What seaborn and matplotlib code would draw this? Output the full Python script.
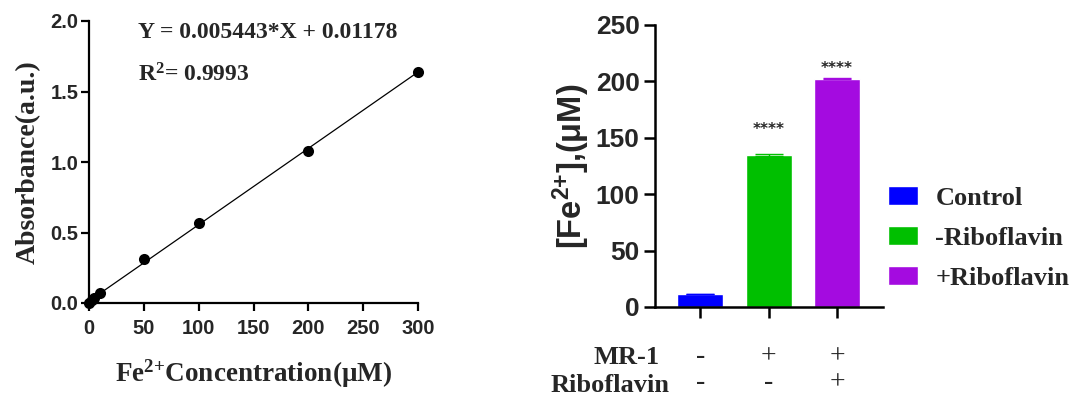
import numpy as np
import pandas as pd
import matplotlib
matplotlib.use("Agg")
import matplotlib.pyplot as plt
import seaborn as sns

# ---- data ----
conc = [0, 2.5, 5, 10, 50, 100, 200, 300]
absorb = [0.0, 0.02, 0.035, 0.07, 0.31, 0.57, 1.08, 1.64]
eq_text = "Y = 0.005443*X + 0.01178"
r2_text = "0.9993"

groups = ["Control", "-Riboflavin", "+Riboflavin"]
fe_vals = [11.5, 134.8, 202.3]
fe_err = [0.3, 0.5, 0.4]
colors = ["#0000FF", "#00BF00", "#A40BE0"]
sig = ["", "****", "****"]
sig_offset = [0, 22, 9]
mr1_row = ["-", "+", "+"]
ribo_row = ["-", "-", "+"]

sns.set_theme(style="ticks")
plt.rcParams["font.family"] = ["Liberation Serif", "DejaVu Sans"]
plt.rcParams["mathtext.fontset"] = "custom"
plt.rcParams["mathtext.bf"] = "Liberation Serif:bold"
plt.rcParams["mathtext.sf"] = "Liberation Sans:bold"
plt.rcParams["mathtext.rm"] = "Liberation Serif:bold"

W, H = 1077, 399
fig = plt.figure(figsize=(W / 100, H / 100), dpi=100)

def px_axes(l, t, r, b):
    return fig.add_axes([l / W, 1 - b / H, (r - l) / W, (b - t) / H])

# ---- left panel ----
ax1 = px_axes(89, 21, 418, 303)
df1 = pd.DataFrame({"conc": conc, "abs": absorb})
sns.regplot(data=df1, x="conc", y="abs", ax=ax1, ci=None, truncate=True,
            scatter_kws=dict(s=64, color="black", alpha=1, clip_on=False, zorder=3, linewidths=0),
            line_kws=dict(color="black", lw=0.9))
ax1.set_xlim(0, 300)
ax1.set_ylim(0, 2.0)
ax1.set_xticks(np.arange(0, 301, 50))
ax1.set_yticks(np.arange(0, 2.01, 0.5))
ax1.set_yticklabels([f"{v:.1f}" for v in np.arange(0, 2.01, 0.5)])
for s in ["top", "right"]:
    ax1.spines[s].set_visible(False)
for s in ["left", "bottom"]:
    ax1.spines[s].set_linewidth(1.6)
    ax1.spines[s].set_color("black")
ax1.tick_params(axis="both", width=1.6, length=5.5, color="black", labelsize=14.5)
ax1.tick_params(axis="x", pad=6)
ax1.tick_params(axis="y", pad=2)
for lab in ax1.get_xticklabels() + ax1.get_yticklabels():
    lab.set_family("Liberation Sans")
    lab.set_fontweight("bold")
ax1.set_xlabel(r"Fe$\mathbf{^{2{+}}}$Concentration(μM)", fontsize=19.5, fontweight="bold", labelpad=14)
ax1.set_ylabel("Absorbance(a.u.)", fontsize=20, fontweight="bold", labelpad=7)
ax1.text(138 / W, 1 - 32 / H, eq_text, transform=fig.transFigure, fontsize=17,
         fontweight="bold", va="center", ha="left")
ax1.text(138 / W, 1 - 75 / H, r"R$\mathbf{^2}$= " + r2_text, transform=fig.transFigure,
         fontsize=17, fontweight="bold", va="center", ha="left")

# ---- right panel ----
ax2 = px_axes(655, 25, 883, 307)
df2 = pd.DataFrame({"group": groups, "val": fe_vals})
sns.barplot(data=df2, x="group", y="val", hue="group", palette=colors, ax=ax2,
            width=0.67, dodge=False, legend=True, errorbar=None, saturation=1)
for i, (v, e, c) in enumerate(zip(fe_vals, fe_err, colors)):
    ax2.errorbar([i], [v], yerr=[e], fmt="none", ecolor=c, elinewidth=1,
                 capsize=10, capthick=1)
ax2.set_xlim(-0.66, 2.67)
ax2.set_ylim(0, 250)
ax2.set_yticks([0, 50, 100, 150, 200, 250])
for s in ["top", "right"]:
    ax2.spines[s].set_visible(False)
for s in ["left", "bottom"]:
    ax2.spines[s].set_linewidth(1.8)
    ax2.spines[s].set_color("black")
ax2.tick_params(axis="y", width=1.8, length=8, color="black", labelsize=19, pad=3)
ax2.tick_params(axis="x", width=1.8, length=8, color="black", labelbottom=False)
for lab in ax2.get_yticklabels():
    lab.set_family("Liberation Sans")
    lab.set_fontweight("bold")
ax2.set_xlabel("")
ax2.set_ylabel(r"[Fe$\mathsf{^{2{+}}}$],(μM)", fontsize=23.5, fontweight="bold",
               family="Liberation Sans", labelpad=3)

for i, (v, e, s, o) in enumerate(zip(fe_vals, fe_err, sig, sig_offset)):
    if s:
        ax2.text(i, v + e + o, s, ha="center", va="center", fontsize=11,
                 fontweight="bold", family="DejaVu Sans")

leg = ax2.legend(loc="center left", bbox_to_anchor=(888 / W, 1 - 238 / H),
                 bbox_transform=fig.transFigure, frameon=False,
                 prop=dict(family="Liberation Serif", weight="bold", size=19),
                 handlelength=1.15, handleheight=0.7, handletextpad=0.65,
                 labelspacing=0.62, borderpad=0, borderaxespad=0)

# condition rows below the bars
row_y = [357, 386]
for j, lab in enumerate(["MR-1", "Riboflavin"]):
    xr = [660, 670][j]
    fig.text(xr / W, 1 - row_y[j] / H, lab, ha="right", va="center",
             fontsize=19, fontweight="bold")
for i, (a, b) in enumerate(zip(mr1_row, ribo_row)):
    ax2.annotate(a, xy=(i, 0), xycoords=("data", "axes fraction"),
                 xytext=(0, -(357 - 307) * 0.72), textcoords="offset points",
                 ha="center", va="center", fontsize=20)
    ax2.annotate(b, xy=(i, 0), xycoords=("data", "axes fraction"),
                 xytext=(0, -(383 - 307) * 0.72), textcoords="offset points",
                 ha="center", va="center", fontsize=20)

fig.savefig("out.png", dpi=100)
